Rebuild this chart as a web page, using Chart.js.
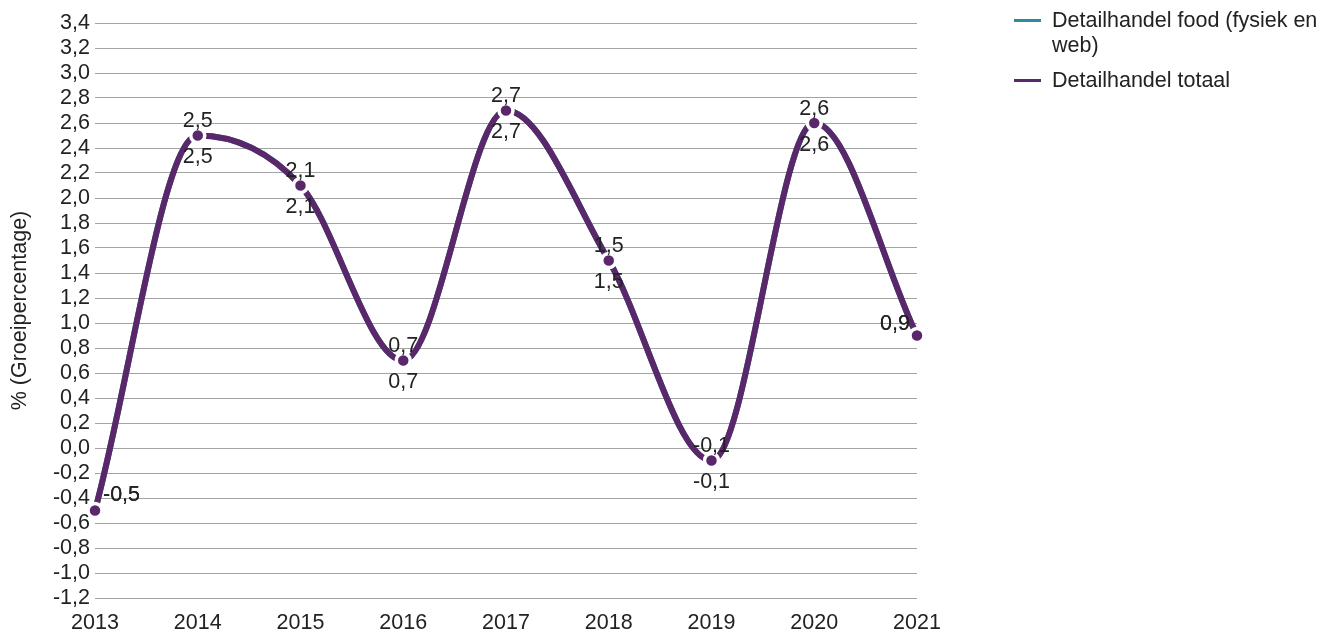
<!DOCTYPE html>
<html>
<head>
<meta charset="utf-8">
<script src="https://cdn.jsdelivr.net/npm/chart.js@4"></script>
<style>
  html, body { margin: 0; padding: 0; background: #fff; }
  #wrap { position: relative; width: 1335px; height: 635px; }
  #legend { position: absolute; left: 1014px; top: 8px; font-family: "Liberation Sans", Arial, sans-serif; font-size: 21.5px; line-height: 25px; color: #222; }
  .item { display: flex; align-items: flex-start; margin-bottom: 10px; }
  .sw { width: 27px; height: 3px; margin-top: 11px; margin-right: 11px; flex: none; }
  .txt { width: 278px; }
</style>
</head>
<body>
<div id="wrap">
  <canvas id="c"></canvas>
  <div id="legend"></div>
</div>
<script>
const categories = ['2013','2014','2015','2016','2017','2018','2019','2020','2021'];
const foodValues = [-0.5, 2.5, 2.1, 0.7, 2.7, 1.5, -0.1, 2.6, 0.9];
const totaalValues = [-0.5, 2.5, 2.1, 0.7, 2.7, 1.5, -0.1, 2.6, 0.9];
const seriesNames = ['Detailhandel food (fysiek en web)', 'Detailhandel totaal'];
const yMin = -1.2, yMax = 3.4, yStep = 0.2;

const FONT = '"Liberation Sans", Arial, sans-serif';
const FS = 21.5;
const TEAL = '#2a8c9e';
const PURPLE = '#5a276b';
const TEXT = '#222222';

function fmt(v) {
  if (Math.abs(v) < 1e-9) v = 0;
  return Number(v).toFixed(1).replace('.', ',');
}

const labelPlugin = {
  id: 'pointLabels',
  afterDatasetsDraw(chart) {
    const ctx = chart.ctx;
    ctx.save();
    ctx.font = FS + 'px ' + FONT;
    ctx.fillStyle = TEXT;
    ctx.textBaseline = 'middle';
    chart.data.datasets.forEach((ds, di) => {
      const meta = chart.getDatasetMeta(di);
      meta.data.forEach((pt, i) => {
        const n = meta.data.length;
        const txt = fmt(ds.data[i]);
        let x = pt.x, y = pt.y;
        if (i === 0) {
          ctx.textAlign = 'left'; x += 8; y -= 15;
        } else if (i === n - 1) {
          ctx.textAlign = 'right'; x -= 7; y -= 11;
        } else {
          ctx.textAlign = 'center';
          y += (di === 0) ? 22 : -14;
        }
        ctx.fillText(txt, x, y);
      });
    });
    ctx.restore();
  }
};

const common = {
  borderWidth: 6,
  pointRadius: 7,
  pointHoverRadius: 7,
  pointBorderWidth: 3.5,
  pointBorderColor: '#ffffff',
  cubicInterpolationMode: 'monotone',
  fill: false
};

new Chart(document.getElementById('c'), {
  type: 'line',
  data: {
    labels: categories,
    datasets: [
      Object.assign({ label: seriesNames[0], data: foodValues, borderColor: TEAL, backgroundColor: TEAL, pointBackgroundColor: TEAL, order: 2 }, common),
      Object.assign({ label: seriesNames[1], data: totaalValues, borderColor: PURPLE, backgroundColor: PURPLE, pointBackgroundColor: PURPLE, order: 1 }, common)
    ]
  },
  options: {
    responsive: true,
    maintainAspectRatio: false,
    animation: false,
    devicePixelRatio: 1,
    layout: { padding: { left: 0, right: 418, top: 23, bottom: 0 } },
    plugins: { legend: { display: false }, tooltip: { enabled: false } },
    scales: {
      x: {
        offset: false,
        grid: { display: false, drawTicks: false },
        border: { display: false },
        ticks: { color: TEXT, font: { family: FONT, size: FS }, padding: 12, maxRotation: 0, autoSkip: false },
        afterFit(s) { s.height = 37; }
      },
      y: {
        min: yMin, max: yMax,
        grid: { color: '#a3a3a3', lineWidth: 1, drawTicks: false },
        border: { display: false },
        ticks: { stepSize: yStep, autoSkip: false, color: TEXT, font: { family: FONT, size: FS }, padding: 5, callback: (v) => fmt(v) },
        title: { display: true, text: '% (Groeipercentage)', color: TEXT, font: { family: FONT, size: FS }, padding: { top: 7, bottom: 0 } },
        afterFit(s) { s.width = 95; }
      }
    }
  },
  plugins: [labelPlugin]
});

const legend = document.getElementById('legend');
[[seriesNames[0], TEAL], [seriesNames[1], PURPLE]].forEach(([name, col]) => {
  const it = document.createElement('div'); it.className = 'item';
  const sw = document.createElement('span'); sw.className = 'sw'; sw.style.background = col;
  const tx = document.createElement('div'); tx.className = 'txt'; tx.textContent = name;
  it.appendChild(sw); it.appendChild(tx); legend.appendChild(it);
});
</script>
</body>
</html>
